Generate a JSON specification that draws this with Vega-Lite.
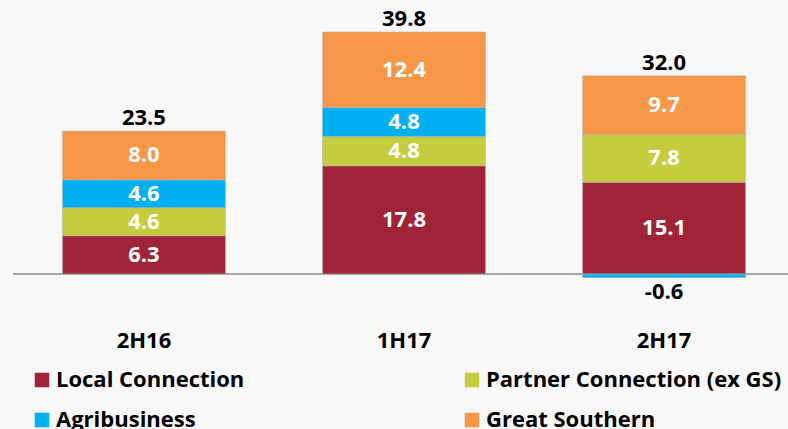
{
  "$schema": "https://vega.github.io/schema/vega-lite/v6.json",
  "width": 782,
  "height": 300,
  "autosize": {"type": "none"},
  "padding": {"left": 13, "top": 0, "right": 0, "bottom": 129},
  "background": "#f8f8f8",
  "config": {"view": {"stroke": null}, "font": "Open Sans"},
  "data": {
    "values": [
      {"period": "2H16", "segment": "Local Connection", "value": 6.3},
      {"period": "2H16", "segment": "Partner Connection (ex GS)", "value": 4.6},
      {"period": "2H16", "segment": "Agribusiness", "value": 4.6},
      {"period": "2H16", "segment": "Great Southern", "value": 8.0},
      {"period": "1H17", "segment": "Local Connection", "value": 17.8},
      {"period": "1H17", "segment": "Partner Connection (ex GS)", "value": 4.8},
      {"period": "1H17", "segment": "Agribusiness", "value": 4.8},
      {"period": "1H17", "segment": "Great Southern", "value": 12.4},
      {"period": "2H17", "segment": "Local Connection", "value": 15.1},
      {"period": "2H17", "segment": "Partner Connection (ex GS)", "value": 7.8},
      {"period": "2H17", "segment": "Agribusiness", "value": -0.6},
      {"period": "2H17", "segment": "Great Southern", "value": 9.7}
    ]
  },
  "transform": [
    {"calculate": "indexof(['Local Connection','Partner Connection (ex GS)','Agribusiness','Great Southern'], datum.segment)", "as": "k"}
  ],
  "layer": [
    {
      "data": {"values": [{"zero": 0}]},
      "mark": {"type": "rule", "color": "#8c8c8c", "strokeWidth": 1.5},
      "encoding": {
        "y": {"field": "zero", "type": "quantitative", "scale": {"domain": [-4.276, 45.066], "nice": false, "zero": false}, "axis": null}
      }
    },
    {
      "mark": {"type": "bar", "stroke": "#b5b5b5", "strokeWidth": 0.6},
      "encoding": {
        "x": {"field": "period", "type": "nominal", "sort": ["2H16", "1H17", "2H17"], "scale": {"paddingInner": 0.373, "paddingOuter": 0.19},
          "axis": {"title": null, "domain": false, "ticks": false, "labelFontSize": 22, "labelFontWeight": "bold", "labelPadding": 30, "labelColor": "black", "labelAngle": 0}},
        "y": {"field": "value", "type": "quantitative", "stack": "zero", "scale": {"domain": [-4.276, 45.066], "nice": false, "zero": false}, "axis": null},
        "color": {"field": "segment", "type": "nominal",
          "scale": {"domain": ["Local Connection", "Partner Connection (ex GS)", "Agribusiness", "Great Southern"], "range": ["#A12337", "#C4CD3E", "#00B0F0", "#F79646"]},
          "legend": {"title": null, "orient": "none", "legendX": 18, "legendY": 369, "direction": "horizontal", "columns": 2, "symbolType": "square", "symbolSize": 210, "symbolStrokeWidth": 0, "labelFontSize": 22, "labelFontWeight": "bold", "labelColor": "black", "labelOffset": 3, "labelLimit": 500, "columnPadding": 216, "rowPadding": 18, "padding": 0}},
        "order": {"field": "k", "type": "quantitative"}
      }
    },
    {
      "transform": [
        {"stack": "value", "groupby": ["period"], "sort": [{"field": "k"}], "as": ["v0", "v1"]},
        {"filter": "datum.value > 0"},
        {"calculate": "(datum.v0 + datum.v1) / 2", "as": "mid"}
      ],
      "mark": {"type": "text", "color": "white", "fontWeight": "bold", "fontSize": 22, "baseline": "middle"},
      "encoding": {
        "x": {"field": "period", "type": "nominal", "sort": ["2H16", "1H17", "2H17"]},
        "y": {"field": "mid", "type": "quantitative", "scale": {"domain": [-4.276, 45.066], "nice": false, "zero": false}},
        "text": {"field": "value", "type": "quantitative", "format": ".1f"}
      }
    },
    {
      "transform": [
        {"joinaggregate": [{"op": "sum", "field": "value", "as": "total"}], "groupby": ["period"]},
        {"filter": "datum.value > 0"},
        {"aggregate": [{"op": "sum", "field": "value", "as": "top"}, {"op": "max", "field": "total", "as": "total"}], "groupby": ["period"]}
      ],
      "mark": {"type": "text", "color": "black", "fontWeight": "bold", "fontSize": 22, "baseline": "middle", "dy": -13},
      "encoding": {
        "x": {"field": "period", "type": "nominal", "sort": ["2H16", "1H17", "2H17"]},
        "y": {"field": "top", "type": "quantitative", "scale": {"domain": [-4.276, 45.066], "nice": false, "zero": false}},
        "text": {"field": "total", "type": "quantitative", "format": ".1f"}
      }
    },
    {
      "transform": [{"filter": "datum.value < 0"}],
      "mark": {"type": "text", "color": "black", "fontWeight": "bold", "fontSize": 22, "baseline": "middle", "dy": 14},
      "encoding": {
        "x": {"field": "period", "type": "nominal", "sort": ["2H16", "1H17", "2H17"]},
        "y": {"field": "value", "type": "quantitative", "scale": {"domain": [-4.276, 45.066], "nice": false, "zero": false}},
        "text": {"field": "value", "type": "nominal"}
      }
    }
  ]
}
